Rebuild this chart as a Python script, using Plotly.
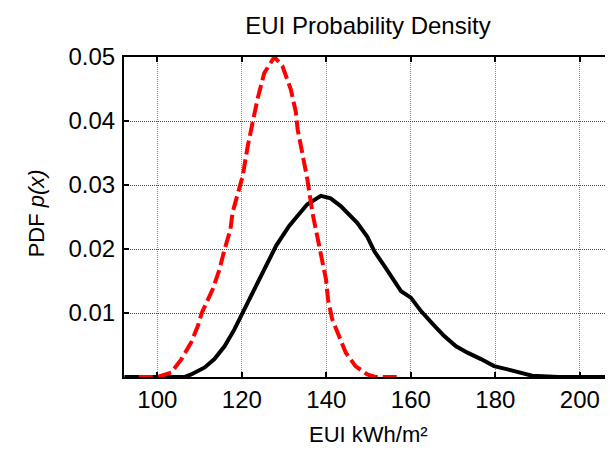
import plotly.graph_objects as go

# EUI values (kWh/m2) and PDF values
black_x = [92.2, 100, 106.4, 108, 111.2, 113.5, 115.9, 118.2, 119.8, 121.8, 123.7, 126.1,
           128.1, 129.6, 131.2, 133.2, 135.5, 138.7, 141, 143.4, 145.8, 147.3, 149.7,
           151.4, 153.8, 155.7, 157.7, 160, 162.4, 165.6, 167.9, 170.7, 173.4, 176.6,
           179.7, 182.9, 186, 188.7, 195, 208.7]
black_y = [0, 0, 0, 0.0004, 0.0015, 0.0028, 0.0048, 0.0074, 0.0095, 0.0121, 0.0147, 0.0179,
           0.0205, 0.022, 0.0236, 0.0252, 0.027, 0.0283, 0.0279, 0.0267, 0.025, 0.0241, 0.0219,
           0.0196, 0.0173, 0.0155, 0.0134, 0.0124, 0.0103, 0.008, 0.0064, 0.0048, 0.0038, 0.0028,
           0.0017, 0.0012, 0.0007, 0.0002, 0, 0]

red_x = [95.6, 100, 101, 103.3, 105.7, 108, 109.6, 110.5, 113.1, 114.7, 115.9, 117.3, 117.8,
         119, 120.2, 121.4, 122.5, 123.7, 125.3, 127.7, 129.6, 131.6, 132.8, 133.2, 134.3,
         135.5, 136.7, 137.9, 139.1, 139.9, 140.4, 141.4, 143, 144.6, 146.9, 149.7, 151.5, 157]
red_y = [0, 0, 0.0002, 0.0007, 0.0028, 0.0054, 0.008, 0.01, 0.0137, 0.0168, 0.0199, 0.0231,
         0.0257, 0.0288, 0.0314, 0.0361, 0.04, 0.0434, 0.0475, 0.05, 0.0486, 0.0449, 0.0413,
         0.0387, 0.035, 0.0309, 0.0257, 0.0215, 0.0179, 0.0153, 0.0121, 0.009, 0.0064, 0.0038,
         0.0017, 0.0004, 0, 0]

x_ticks = [100, 120, 140, 160, 180, 200]
y_ticks = [0.01, 0.02, 0.03, 0.04, 0.05]
y_ticktext = ["0.01", "0.02", "0.03", "0.04", "0.05"]

FONT = "Liberation Sans, Arial, sans-serif"
W, H = 613, 450
L, R, T, B = 116, 2, 49, 81
PW, PH = W - L - R, H - T - B

fig = go.Figure()
fig.add_trace(go.Scatter(x=black_x, y=black_y, mode="lines",
                         line=dict(color="black", width=4), cliponaxis=False,
                         showlegend=False))
fig.add_trace(go.Scatter(x=red_x, y=red_y, mode="lines",
                         line=dict(color="#ff0000", width=4, dash="14px,5px"),
                         cliponaxis=False, showlegend=False))

axis_common = dict(showline=True, linecolor="black", linewidth=2, mirror="ticks",
                   ticks="inside", ticklen=5, tickwidth=2, tickcolor="black",
                   zeroline=False, showgrid=True, gridwidth=1,
                   tickfont=dict(family=FONT, size=24, color="black"))

fig.update_xaxes(range=[92.1, 208.8], tickvals=x_ticks, gridcolor="#8a8a8a",
                 griddash="1px,1px", **axis_common)
fig.update_yaxes(range=[0, 0.05], tickvals=y_ticks, ticktext=y_ticktext,
                 gridcolor="#444444", griddash="1px,1px", ticklabelstandoff=2,
                 **axis_common)

fig.update_layout(
    width=W, height=H,
    margin=dict(l=L, r=R, t=T, b=B, pad=0),
    paper_bgcolor="white", plot_bgcolor="white",
    title=dict(text="EUI Probability Density", x=360 / W, xanchor="center",
               y=1 - 18 / H, yanchor="middle", xref="container", yref="container",
               font=dict(family=FONT, size=24, color="black")),
    annotations=[
        dict(text="PDF <i>p(x)</i>", textangle=-90, showarrow=False,
             xref="paper", yref="paper", x=(28 - L) / PW, y=(H - B - 205) / PH,
             xanchor="center", yanchor="middle",
             font=dict(family=FONT, size=22, color="black")),
        dict(text="EUI kWh/m²", showarrow=False,
             xref="paper", yref="paper", x=(361.5 - L) / PW, y=(H - B - 426) / PH,
             xanchor="center", yanchor="middle",
             font=dict(family=FONT, size=22, color="black")),
    ],
)

fig.write_html("out.html")
